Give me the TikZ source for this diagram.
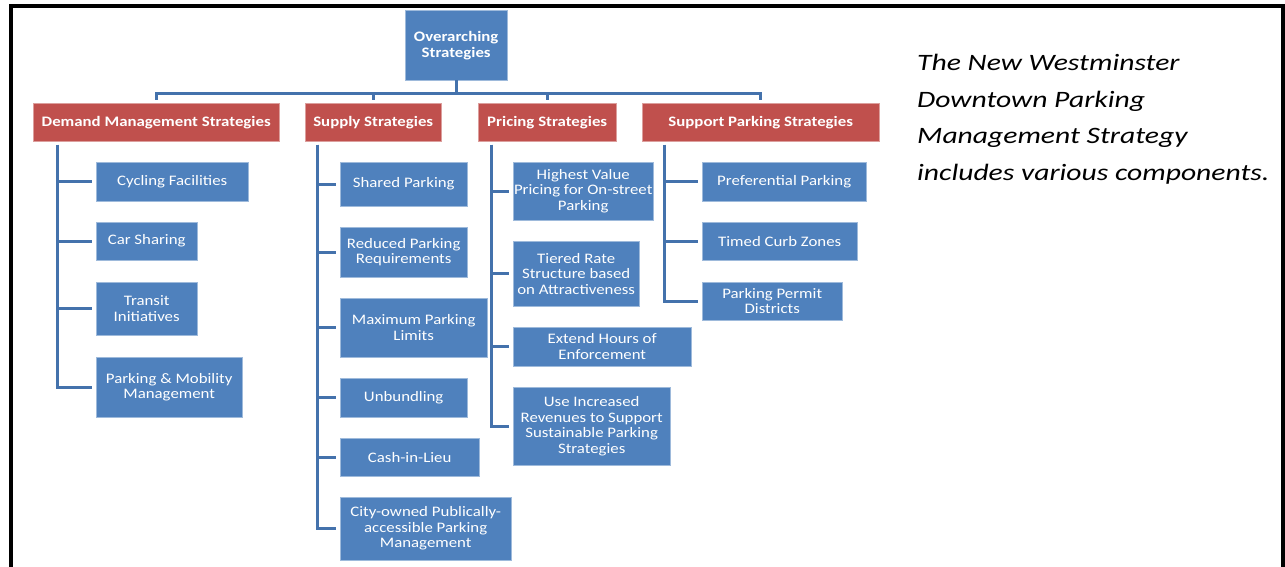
\documentclass[tikz,border=0pt]{standalone}
\usepackage{fontspec}
\setmainfont{Carlito}[FakeStretch=1.16]
\newfontfamily\notefont{Carlito}[FakeStretch=1.26]
\definecolor{boxblue}{RGB}{79,129,189}
\definecolor{boxred}{RGB}{192,80,77}
\definecolor{linkblue}{RGB}{68,114,172}
\begin{document}
\begin{tikzpicture}[x=1pt,y=-1pt]

% definitions
\tikzstyle{topbox} = [rectangle, anchor=north west, inner sep=0pt, align=center, draw=boxblue!55!white, fill=boxblue, text=white, font=\fontsize{14.5}{16}\selectfont\bfseries]

\tikzstyle{group} = [rectangle, anchor=north west, inner sep=0pt, minimum height=38pt, align=center, draw=boxred!55!white, fill=boxred, text=white, font=\fontsize{14.5}{17}\selectfont\bfseries]

\tikzstyle{item} = [rectangle, anchor=north west, inner sep=0pt, align=center, draw=boxblue!55!white, fill=boxblue, text=white, font=\fontsize{14.5}{15.5}\selectfont]

\tikzstyle{link} = [draw=linkblue, line width=3pt]

\tikzstyle{pageframe} = [draw=black, line width=4pt]

\useasboundingbox (0,0) rectangle (1285,567);

% outer frame
\draw [pageframe] (11,567) -- (11,6) -- (1283,6) -- (1283,567);

% the graph
\node (top) [topbox, minimum width=102pt, minimum height=70pt] at (405,10) {Overarching\\Strategies};

\node (dm) [group, minimum width=246pt] at (33,103) {Demand Management Strategies};
\node (sup) [group, minimum width=136pt] at (305,103) {Supply Strategies};
\node (pri) [group, minimum width=138pt] at (478,103) {Pricing Strategies};
\node (spt) [group, minimum width=237pt] at (642,103) {Support Parking Strategies};

% demand management
\node (cf) [item, minimum width=152pt, minimum height=39pt] at (96,162) {Cycling Facilities};
\node (cs) [item, minimum width=101pt, minimum height=38pt] at (96,222) {Car Sharing};
\node (ti) [item, minimum width=101pt, minimum height=53pt] at (96,282) {Transit\\Initiatives};
\node (pm) [item, minimum width=146pt, minimum height=60pt] at (96,357) {Parking \& Mobility\\Management};

% supply
\node (sp) [item, minimum width=127pt, minimum height=44pt] at (340,162) {Shared Parking};
\node (rp) [item, minimum width=127pt, minimum height=50pt] at (340,227) {Reduced Parking\\Requirements};
\node (mp) [item, minimum width=147pt, minimum height=59pt] at (340,298) {Maximum Parking\\Limits};
\node (ub) [item, minimum width=127pt, minimum height=39pt] at (340,378) {Unbundling};
\node (cl) [item, minimum width=139pt, minimum height=38pt] at (340,438) {Cash-in-Lieu};
\node (co) [item, minimum width=171pt, minimum height=63pt] at (340,497) {City-owned Publically-\\accessible Parking\\Management};

% pricing
\node (hv) [item, minimum width=140pt, minimum height=58pt] at (513,162) {Highest Value\\Pricing for On-street\\Parking};
\node (tr) [item, minimum width=126pt, minimum height=65pt] at (513,241) {Tiered Rate\\Structure based\\on Attractiveness};
\node (eh) [item, minimum width=178pt, minimum height=39pt] at (513,327) {Extend Hours of\\Enforcement};
\node (ui) [item, minimum width=157pt, minimum height=78pt] at (513,387) {Use Increased\\Revenues to Support\\Sustainable Parking\\Strategies};

% support parking
\node (pp) [item, minimum width=164pt, minimum height=39pt] at (702,162) {Preferential Parking};
\node (tc) [item, minimum width=155pt, minimum height=38pt] at (702,222) {Timed Curb Zones};
\node (pd) [item, minimum width=140pt, minimum height=38pt] at (702,282) {Parking Permit\\Districts};

% note
\node (note) [anchor=north west, align=left, inner sep=0pt, font=\notefont\fontsize{23.5}{36.5}\selectfont\itshape] at (917,54) {The New Westminster\\Downtown Parking\\Management Strategy\\includes various components.};

% connectors
\draw [link] (top.south) -- ++(0,13) coordinate (bus);
\draw [link, shorten >=3pt] (bus) -| (dm.north);
\draw [link, shorten >=3pt] (bus) -| (sup.north);
\draw [link, shorten >=3pt] (bus) -| (pri.north);
\draw [link, shorten >=3pt] (bus) -| (spt.north);

\coordinate (dmT) at (57,145);
\coordinate (supT) at (317,145);
\coordinate (priT) at (491,145);
\coordinate (sptT) at (664,145);

\foreach \c in {cf,cs,ti,pm}
  \draw [link, shorten >=4pt] (dmT) |- (\c.west);
\foreach \c in {sp,rp,mp,ub,cl,co}
  \draw [link, shorten >=4pt] (supT) |- (\c.west);
\foreach \c in {hv,tr,eh,ui}
  \draw [link, shorten >=4pt] (priT) |- (\c.west);
\foreach \c in {pp,tc,pd}
  \draw [link, shorten >=4pt] (sptT) |- (\c.west);

\end{tikzpicture}
\end{document}
